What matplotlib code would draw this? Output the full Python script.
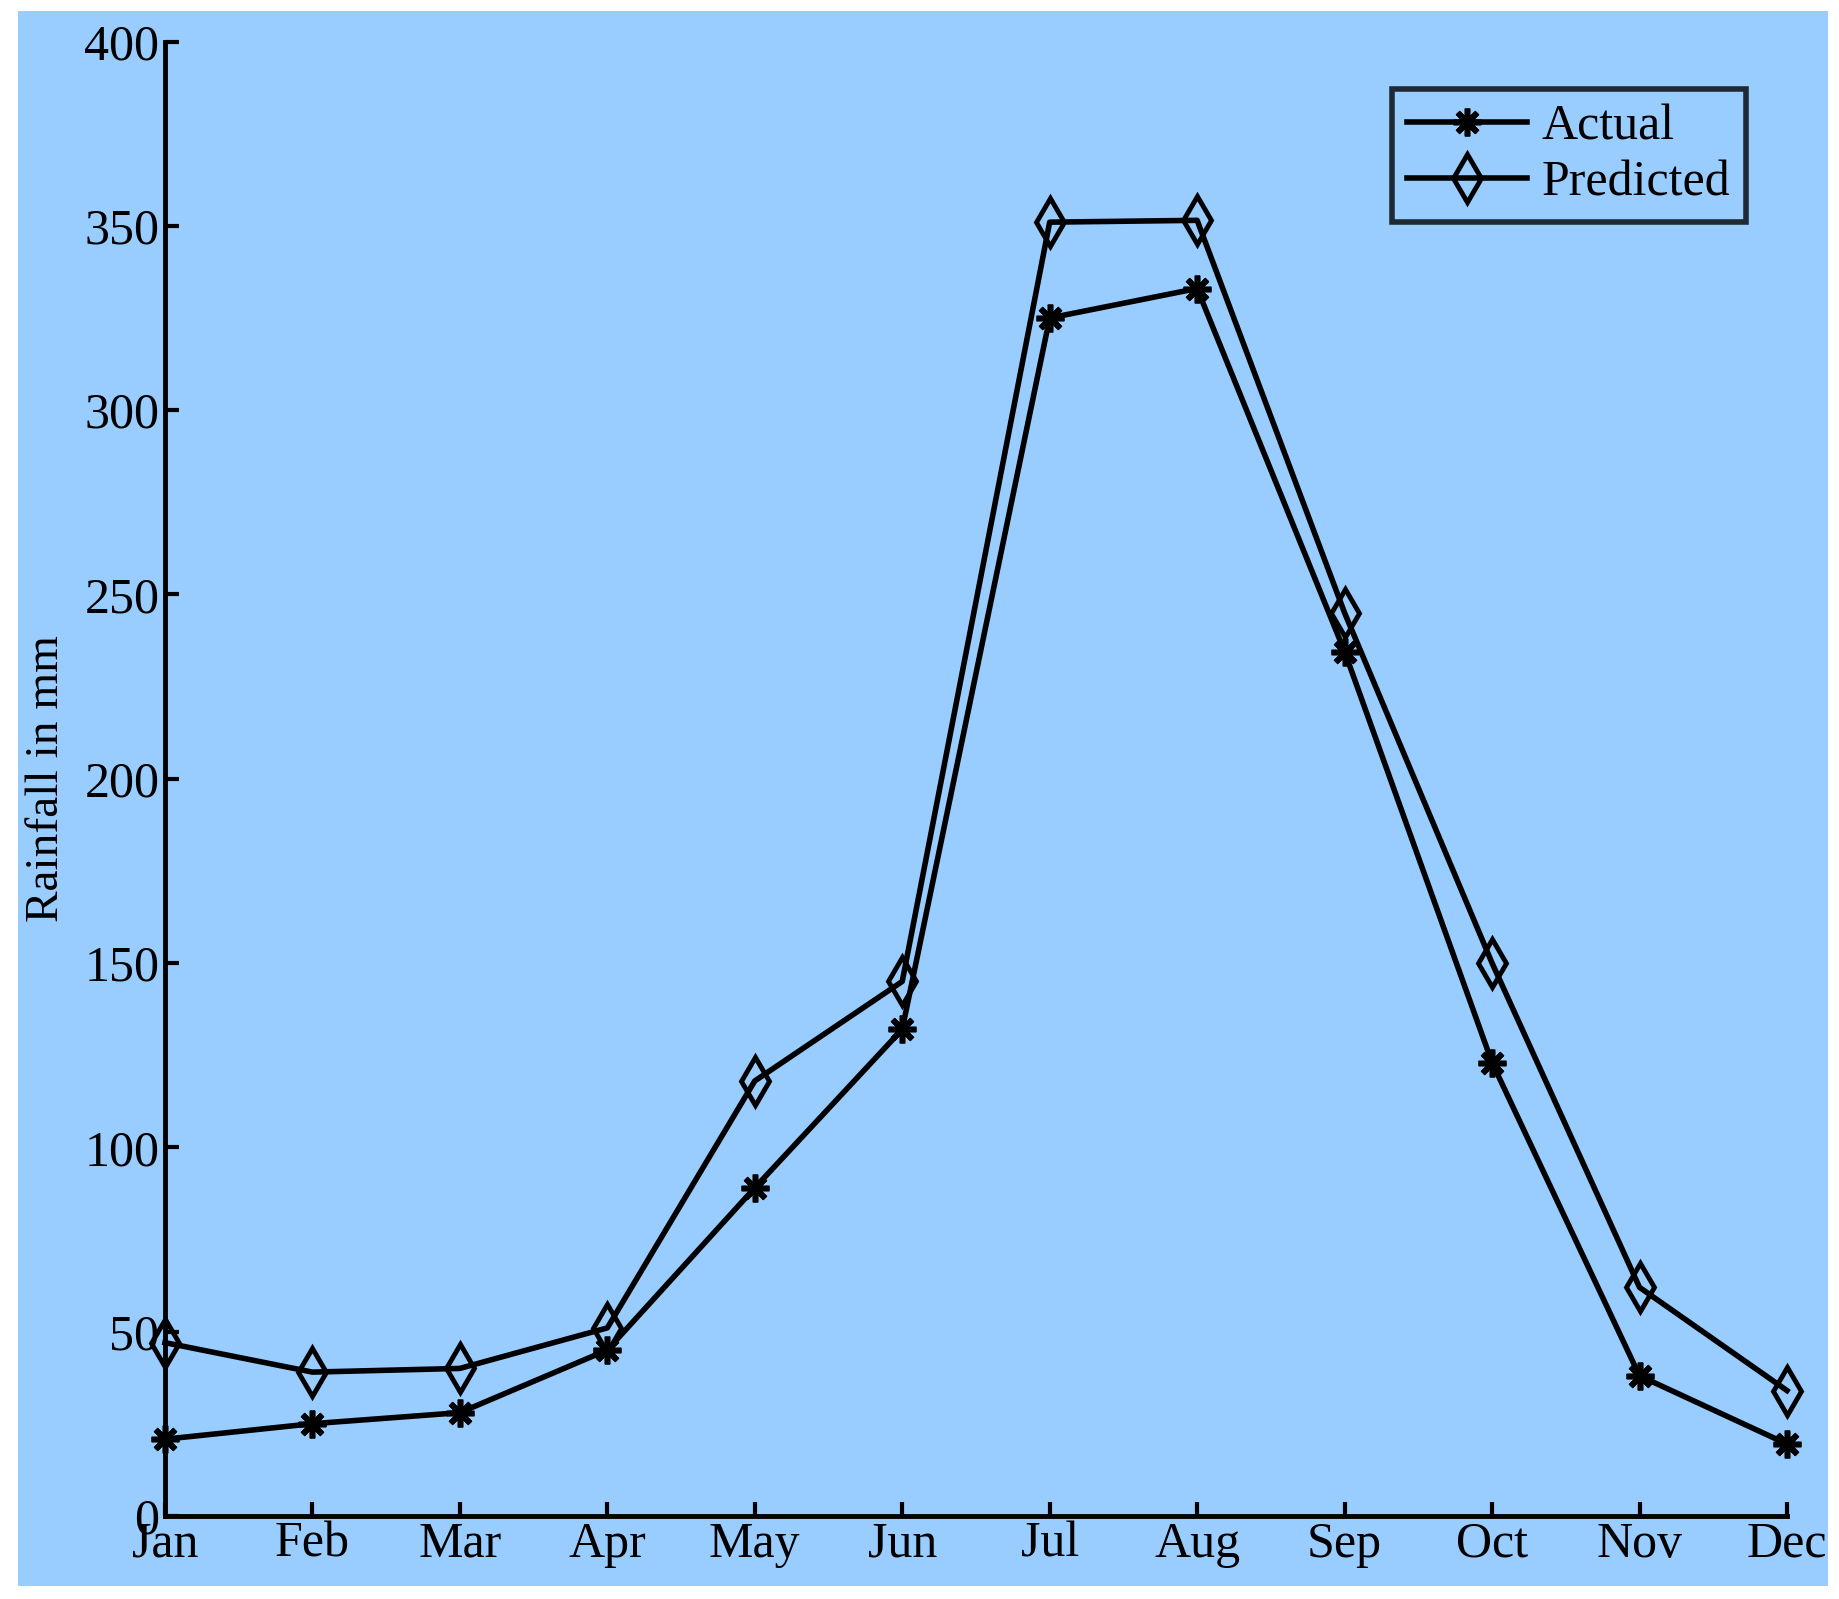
import matplotlib
matplotlib.use("Agg")
import matplotlib.pyplot as plt
from matplotlib.patches import Rectangle

months = ["Jan","Feb","Mar","Apr","May","Jun","Jul","Aug","Sep","Oct","Nov","Dec"]
actual = [20.8, 25, 28, 45, 89, 132, 325, 333, 234.5, 123, 38, 19.5]
predicted = [47, 39, 40, 51, 118, 145, 351, 351.5, 245, 150, 62, 34]
yticks = [0, 50, 100, 150, 200, 250, 300, 350, 400]

bg = "#99CCFF"
plt.rcParams['font.family'] = ['Liberation Serif', 'DejaVu Serif']
fig = plt.figure(figsize=(18.39, 15.99), dpi=100)
fig.patch.set_facecolor("white")
fig.patches.append(Rectangle((0.01, 0.008), 0.984, 0.985, transform=fig.transFigure,
                             facecolor=bg, edgecolor="none", zorder=-10))
ax = fig.add_axes([0.0897, 0.052, 0.882, 0.922])
ax.set_facecolor(bg)
x = list(range(len(months)))
ax.plot(x, actual, color="black", lw=4, marker=(8, 2, 0), ms=20, mew=4, label="Actual", clip_on=False)
ax.plot(x, predicted, color="black", lw=4, marker="d", ms=24, mew=3.5, mfc="none", label="Predicted", clip_on=False)
ax.set_xlim(0, 11)
ax.set_ylim(0, 400)
ax.set_xticks(x)
ax.set_xticklabels(months)
ax.set_yticks(yticks)
for s in ["top", "right"]:
    ax.spines[s].set_visible(False)
for s in ["left", "bottom"]:
    ax.spines[s].set_linewidth(3.5)
ax.tick_params(labelsize=36, width=3, length=10, direction="in", pad=4)
ax.set_ylabel("Rainfall in mm", fontsize=34, labelpad=12)
leg = ax.legend(loc="upper right", bbox_to_anchor=(0.99, 0.985), fontsize=36, frameon=True,
                fancybox=False, handlelength=2.4, borderpad=0.3, handletextpad=0.3,
                labelspacing=0.2)
leg.get_frame().set_edgecolor("black")
leg.get_frame().set_linewidth(4)
leg.get_frame().set_facecolor(bg)
fig.savefig("out.png", dpi=100, facecolor=fig.get_facecolor())
